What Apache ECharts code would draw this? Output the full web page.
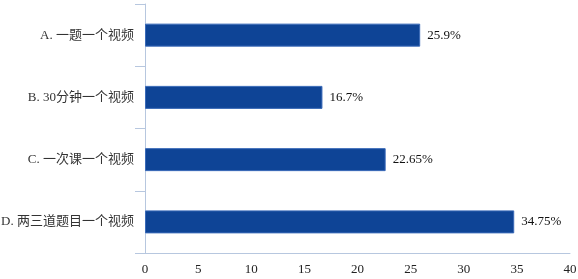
<!DOCTYPE html>
<html>
<head>
<meta charset="utf-8">
<script src="https://cdn.jsdelivr.net/npm/echarts@6/dist/echarts.min.js"></script>
<style>
  html, body { margin: 0; padding: 0; background: #fff; }
  #chart { width: 578px; height: 279px; }
</style>
</head>
<body>
<div id="chart"></div>
<script>
// 类别与数值
const categories = ['A. 一题一个视频', 'B. 30分钟一个视频', 'C. 一次课一个视频', 'D. 两三道题目一个视频']
const values = [25.9, 16.7, 22.65, 34.75]
const xTicks = [0, 5, 10, 15, 20, 25, 30, 35, 40]

const font = '"Liberation Serif", "Times New Roman", "Noto Sans CJK SC", serif'
const axisColor = '#b7c7df'

const chart = echarts.init(document.getElementById('chart'))
const option = {
  animation: false,
  grid: {
    left: 145,
    right: 8,
    top: 4,
    bottom: 26,
    containLabel: false,
    outerBoundsMode: 'none'
  },
  xAxis: {
    type: 'value',
    min: xTicks[0],
    max: xTicks[xTicks.length - 1],
    interval: 5,
    splitLine: { show: false },
    axisLine: { show: true, lineStyle: { color: axisColor, width: 1 } },
    axisTick: { show: false },
    axisLabel: { color: '#222', fontFamily: font, fontSize: 13, margin: 10 }
  },
  yAxis: {
    type: 'category',
    inverse: true,
    data: categories,
    axisLine: { show: true, lineStyle: { color: axisColor, width: 1 } },
    axisTick: { show: true, length: 10, lineStyle: { color: axisColor } },
    axisLabel: { color: '#333', fontFamily: font, fontSize: 13, margin: 11 }
  },
  series: [
    {
      type: 'bar',
      data: values,
      barWidth: 23,
      itemStyle: {
        color: '#0e4496',
        borderColor: '#3a6ab8',
        borderWidth: 1
      },
      label: {
        show: true,
        position: 'right',
        distance: 7,
        formatter: '{c}%',
        color: '#111',
        fontFamily: font,
        fontSize: 13
      }
    }
  ]
}
chart.setOption(option)
</script>
</body>
</html>
